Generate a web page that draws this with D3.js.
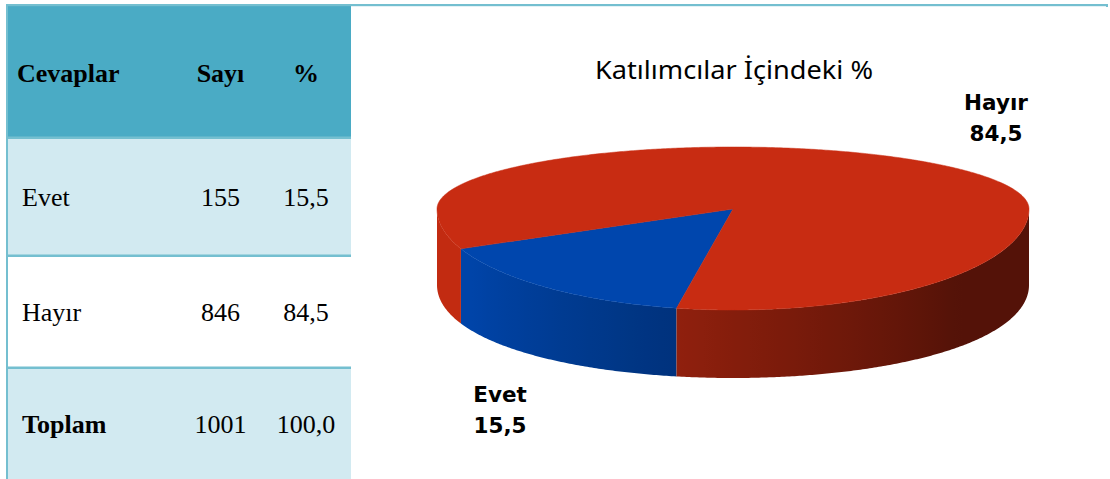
<!DOCTYPE html>
<html>
<head>
<meta charset="utf-8">
<script src="https://cdn.jsdelivr.net/npm/d3@7"></script>
<style>
  body { margin: 0; background: #fff; }
  svg { display: block; }
</style>
</head>
<body>
<div id="chart"></div>
<script>
// data
const headers = ["Cevaplar", "Sayı", "%"];
const categories = ["Evet", "Hayır"];
const counts = [155, 846];
const percents = [15.5, 84.5];
const totalLabel = "Toplam";
const totalCount = 1001;
const totalPercent = 100.0;
const chartTitle = "Katılımcılar İçindeki %";
const sliceColors = ["#0046ad", "#c82c12"];

const width = 1110, height = 479;
const fmt = v => d3.format(".1f")(v).replace(".", ",");

const svg = d3.select("#chart").append("svg")
  .attr("width", width)
  .attr("height", height);
const defs = svg.append("defs");

// ---- table ----
const borderColor = "#74bfd0";
const rowEdges = [6, 138, 256, 368, 479];   // header, Evet, Hayır, Toplam
const rowFills = ["#4aabc5", "#d2eaf1", "#ffffff", "#d2eaf1"];
const tableLeft = 6, tableRight = 351;
const colX = [22, 220.5, 306];

const rows = [headers]
  .concat(categories.map((c, i) => [c, String(counts[i]), fmt(percents[i])]))
  .concat([[totalLabel, String(totalCount), fmt(totalPercent)]]);

const table = svg.append("g").attr("class", "table");

table.selectAll("rect.row")
  .data(rows)
  .enter().append("rect")
  .attr("class", "row")
  .attr("x", tableLeft)
  .attr("y", (d, i) => rowEdges[i])
  .attr("width", tableRight - tableLeft)
  .attr("height", (d, i) => rowEdges[i + 1] - rowEdges[i])
  .attr("fill", (d, i) => rowFills[i]);

// row separators
table.selectAll("rect.sep")
  .data(rowEdges.slice(1, 4))
  .enter().append("rect")
  .attr("class", "sep")
  .attr("x", tableLeft)
  .attr("y", d => d - 1.5)
  .attr("width", tableRight - tableLeft)
  .attr("height", 2.5)
  .attr("fill", borderColor);

// left and top borders
table.append("rect").attr("x", 6).attr("y", 4).attr("width", 2).attr("height", height - 4).attr("fill", borderColor);
svg.append("rect").attr("x", 6).attr("y", 4).attr("width", 1102).attr("height", 2.2).attr("fill", borderColor);
svg.append("rect").attr("x", 1106).attr("y", 4).attr("width", 2).attr("height", 3).attr("fill", borderColor);

const rowBaseline = [82, 206, 321, 433];

rows.forEach((r, i) => {
  r.forEach((cell, j) => {
    const bold = i === 0 || (i === rows.length - 1 && j === 0);
    table.append("text")
      .attr("x", i === 0 && j === 0 ? 17 : colX[j])
      .attr("y", rowBaseline[i])
      .attr("text-anchor", j === 0 ? "start" : "middle")
      .attr("font-family", "'Liberation Serif', 'Times New Roman', serif")
      .attr("font-size", 26)
      .attr("font-weight", bold ? "bold" : "normal")
      .attr("fill", "#000")
      .text(cell);
  });
});

// ---- 3D pie ----
const cx = 733, cy = 209, rx = 296, ryBack = 62, ryFront = 101;
const depthAt = t => 68 + 8 * Math.cos(t) * Math.cos(t);
const rot = 191 * Math.PI / 180;

function pt(t, down) {
  const s = Math.sin(t);
  const y = cy + s * (s > 0 ? ryFront : ryBack);
  return [cx + rx * Math.cos(t), y + (down ? depthAt(t) : 0)];
}

const pie = d3.pie().sort(null).startAngle(rot).endAngle(rot + 2 * Math.PI);
const arcs = pie(percents).map((a, i) => ({
  cat: categories[i],
  value: percents[i],
  color: sliceColors[i],
  t0: a.startAngle - Math.PI / 2,
  t1: a.endAngle - Math.PI / 2
}));

const line = d3.line();
const step = Math.PI / 360;

function shade(color, t) {
  let deg = (t * 180 / Math.PI) % 360;
  if (deg < 0) deg += 360;
  const f = Math.max(0.42, Math.min(0.97, 0.72 + 0.005 * (deg - 101)));
  const c = d3.rgb(color);
  return d3.rgb(c.r * f, c.g * f, c.b * f).toString();
}

function sampleT(a, b) {
  const out = [];
  for (let t = a; t < b; t += step) out.push(t);
  out.push(b);
  return out;
}

const pieG = svg.append("g").attr("class", "pie");

// side walls: the parts of each slice that lie on the front half
let gid = 0;
arcs.forEach(a => {
  for (let k = -1; k <= 2; k++) {
    const lo = Math.max(a.t0, k * 2 * Math.PI);
    const hi = Math.min(a.t1, k * 2 * Math.PI + Math.PI);
    if (hi - lo < 1e-6) continue;
    const ts = sampleT(lo, hi);
    const topPts = ts.map(t => pt(t, false));
    const botPts = ts.map(t => pt(t, true)).reverse();
    const xs = topPts.map(p => p[0]);
    const xMin = d3.min(xs), xMax = d3.max(xs);
    const id = "side" + (gid++);
    const grad = defs.append("linearGradient")
      .attr("id", id)
      .attr("gradientUnits", "userSpaceOnUse")
      .attr("x1", xMin).attr("x2", xMax).attr("y1", 0).attr("y2", 0);
    const stops = ts.filter((t, i) => i % 6 === 0 || i === ts.length - 1)
      .map(t => ({ off: (pt(t, false)[0] - xMin) / Math.max(1, xMax - xMin), col: shade(a.color, t) }))
      .sort((p, q) => p.off - q.off);
    grad.selectAll("stop").data(stops).enter().append("stop")
      .attr("offset", d => d.off)
      .attr("stop-color", d => d.col);
    pieG.append("path")
      .attr("d", line(topPts.concat(botPts)) + "Z")
      .attr("fill", `url(#${id})`);
  }
});

// top faces
pieG.selectAll("path.top")
  .data(arcs)
  .enter().append("path")
  .attr("class", "top")
  .attr("d", a => line([[cx, cy]].concat(sampleT(a.t0, a.t1).map(t => pt(t, false)))) + "Z")
  .attr("fill", a => a.color)
  .attr("stroke", a => a.color)
  .attr("stroke-width", 0.5);

// title
svg.append("text")
  .attr("x", 734)
  .attr("y", 79)
  .attr("text-anchor", "middle")
  .attr("font-family", "'Noto Sans', 'Open Sans', sans-serif")
  .attr("font-size", 24.5)
  .attr("textLength", 278)
  .attr("lengthAdjust", "spacingAndGlyphs")
  .attr("fill", "#000")
  .text(chartTitle);

// data labels
const labelPos = { "Evet": [500, 402], "Hayır": [996, 110] };
arcs.forEach(a => {
  const [lx, ly] = labelPos[a.cat];
  const g = svg.append("text")
    .attr("text-anchor", "middle")
    .attr("font-family", "'DejaVu Sans', Verdana, sans-serif")
    .attr("font-weight", "bold")
    .attr("font-size", 21.5)
    .attr("fill", "#000");
  g.append("tspan").attr("x", lx).attr("y", ly).text(a.cat);
  g.append("tspan").attr("x", lx).attr("y", ly + 31).text(fmt(a.value));
});
</script>
</body>
</html>
